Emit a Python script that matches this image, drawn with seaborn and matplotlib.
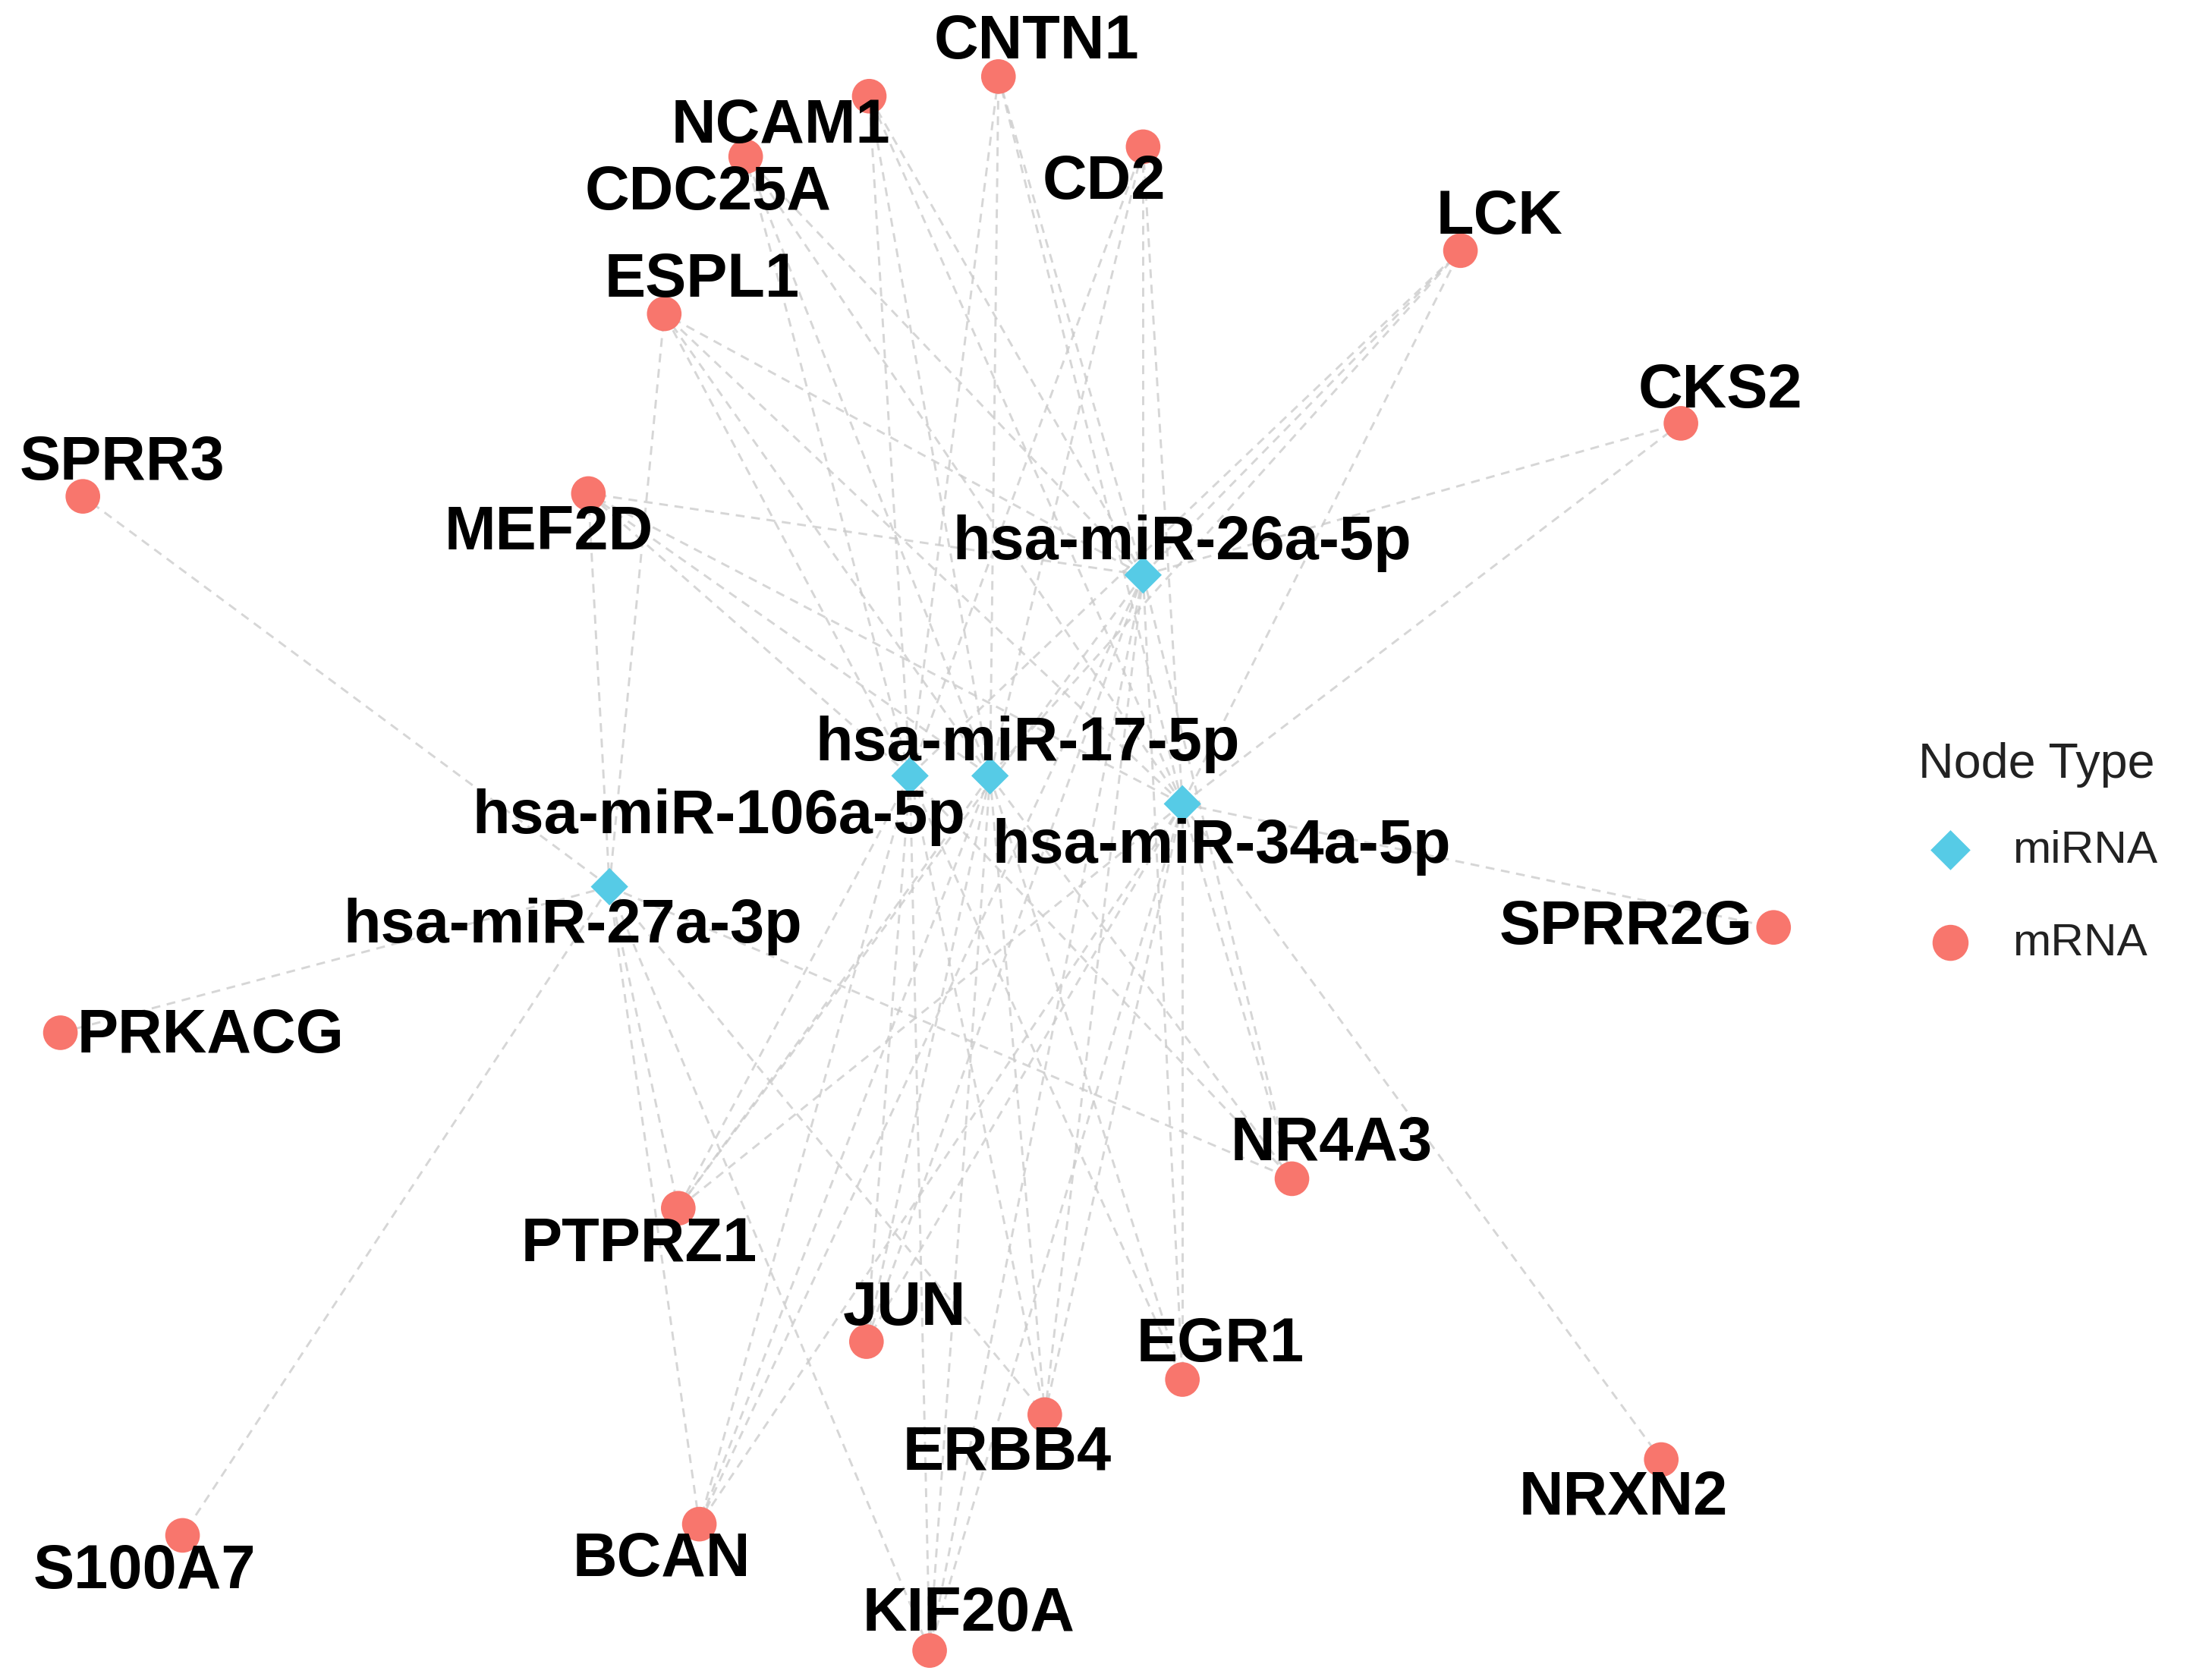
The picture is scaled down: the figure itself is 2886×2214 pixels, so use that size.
import pandas as pd
import matplotlib.pyplot as plt
import seaborn as sns

# node layout (pixel-like units, y downwards)
mirna = ["hsa-miR-26a-5p", "hsa-miR-17-5p", "hsa-miR-106a-5p", "hsa-miR-34a-5p", "hsa-miR-27a-3p"]
mirna_x = [814, 705, 648, 842, 434]
mirna_y = [410, 553, 553, 573, 632]

mrna = ["CNTN1", "NCAM1", "CDC25A", "CD2", "LCK", "ESPL1", "CKS2", "SPRR3", "MEF2D",
        "SPRR2G", "PRKACG", "NR4A3", "PTPRZ1", "JUN", "EGR1", "ERBB4", "NRXN2",
        "S100A7", "BCAN", "KIF20A"]
mrna_x = [711, 619, 531, 814, 1040, 473, 1197, 59, 419, 1263, 43, 920, 483, 617, 842, 744, 1183, 130, 498, 662]
mrna_y = [55, 69, 112, 105, 179, 224, 302, 354, 352, 661, 736, 840, 861, 956, 983, 1008, 1040, 1094, 1086, 1176]

# label offsets relative to node
label_dx = {"hsa-miR-26a-5p": 28, "hsa-miR-17-5p": 27, "hsa-miR-106a-5p": -136, "hsa-miR-34a-5p": 28,
            "hsa-miR-27a-3p": -26, "CNTN1": 27, "NCAM1": -63, "CDC25A": -27, "CD2": -28, "LCK": 28,
            "ESPL1": 27, "CKS2": 28, "SPRR3": 28, "MEF2D": -28, "SPRR2G": -105, "PRKACG": 107,
            "NR4A3": 28, "PTPRZ1": -28, "JUN": 27, "EGR1": 27, "ERBB4": -27, "NRXN2": -27,
            "S100A7": -27, "BCAN": -27, "KIF20A": 28}
label_dy = {"hsa-miR-26a-5p": -23, "hsa-miR-17-5p": -23, "hsa-miR-106a-5p": 29, "hsa-miR-34a-5p": 30,
            "hsa-miR-27a-3p": 28, "CNTN1": -25, "NCAM1": 21, "CDC25A": 26, "CD2": 25, "LCK": -24,
            "ESPL1": -24, "CKS2": -23, "SPRR3": -24, "MEF2D": 28, "SPRR2G": 0, "PRKACG": 2,
            "NR4A3": -25, "PTPRZ1": 26, "JUN": -24, "EGR1": -25, "ERBB4": 27, "NRXN2": 27,
            "S100A7": 26, "BCAN": 25, "KIF20A": -26}

hubs = ["hsa-miR-26a-5p", "hsa-miR-17-5p", "hsa-miR-106a-5p", "hsa-miR-34a-5p"]
shared = ["CNTN1", "NCAM1", "CDC25A", "CD2", "ESPL1", "MEF2D", "NR4A3", "PTPRZ1",
          "JUN", "EGR1", "ERBB4", "BCAN", "KIF20A"]
edges = [(m, g) for m in hubs for g in shared]
edges += [("hsa-miR-27a-3p", g) for g in ["SPRR3", "PRKACG", "S100A7", "MEF2D", "ESPL1",
                                           "NR4A3", "PTPRZ1", "BCAN", "KIF20A", "ERBB4"]]
edges += [("hsa-miR-26a-5p", "LCK"), ("hsa-miR-34a-5p", "LCK"), ("hsa-miR-17-5p", "LCK"),
          ("hsa-miR-106a-5p", "LCK"), ("hsa-miR-26a-5p", "CKS2"), ("hsa-miR-34a-5p", "CKS2"),
          ("hsa-miR-34a-5p", "SPRR2G"), ("hsa-miR-34a-5p", "NRXN2")]

nodes = pd.DataFrame({
    "name": mirna + mrna,
    "x": mirna_x + mrna_x,
    "y": mirna_y + mrna_y,
    "Node Type": ["miRNA"] * len(mirna) + ["mRNA"] * len(mrna),
})
pos = {r.name: (r.x, r.y) for r in nodes.itertuples()}

sns.set_style("white")
plt.rcParams["font.family"] = ["Liberation Sans", "DejaVu Sans"]

fig = plt.figure(figsize=(9.623, 7.383), dpi=300)
ax = fig.add_axes([0, 0, 1, 1])

for a, b in edges:
    ax.plot([pos[a][0], pos[b][0]], [pos[a][1], pos[b][1]], color="#cccccc",
            lw=0.7, ls=(0, (4, 3)), alpha=0.8, zorder=1)

palette = {"miRNA": "#56CBE6", "mRNA": "#F8766D"}
markers = {"miRNA": "D", "mRNA": "o"}
sns.scatterplot(data=nodes, x="x", y="y", hue="Node Type", style="Node Type",
                palette=palette, markers=markers, size="Node Type",
                sizes={"miRNA": 70, "mRNA": 120}, edgecolor="none",
                ax=ax, zorder=3, legend=False)

for r in nodes.itertuples():
    ax.text(r.x + label_dx[r.name], r.y + label_dy[r.name], r.name, fontsize=19.5,
            fontweight="bold", color="black", ha="center", va="center", zorder=4)

# legend
ax.text(1450, 545, "Node Type", fontsize=15.5, color="#222222", ha="center", va="center")
ax.scatter([1389], [606], marker="D", s=80, color=palette["miRNA"], edgecolor="none")
ax.scatter([1389], [672], marker="o", s=130, color=palette["mRNA"], edgecolor="none")
ax.text(1433, 606, "miRNA", fontsize=14.5, color="#222222", va="center")
ax.text(1433, 672, "mRNA", fontsize=14.5, color="#222222", va="center")

ax.set_xlim(0, 1560)
ax.set_ylim(1197, 0)
ax.axis("off")
fig.savefig("out.png", dpi=300)
